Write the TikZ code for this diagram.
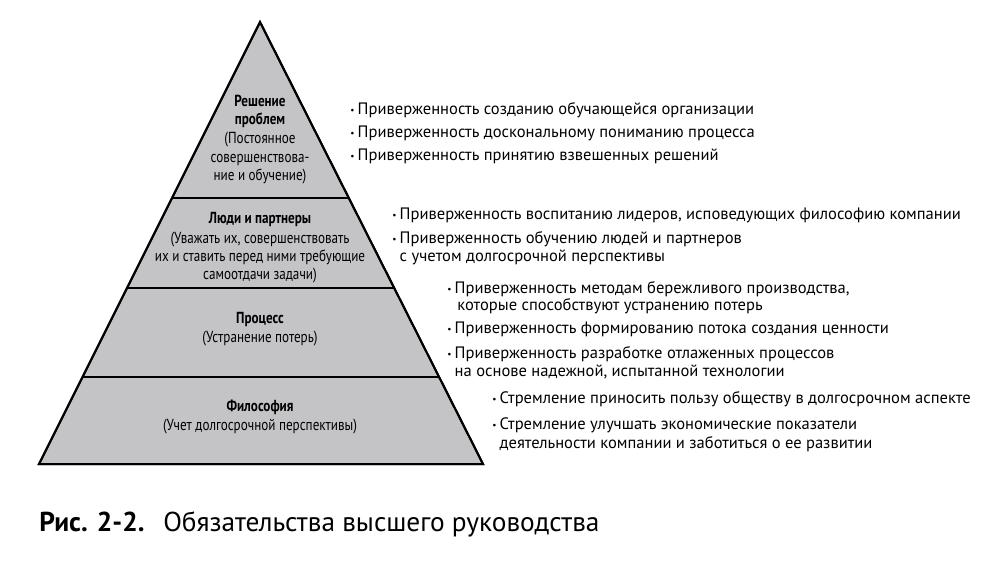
\documentclass[tikz,border=0pt]{standalone}
\usepackage{fontspec}
\usetikzlibrary{calc}
\setmainfont{PT Sans}
\newfontfamily\condfont[FakeStretch=0.82]{PT Sans}
\definecolor{pyrgray}{RGB}{196,196,198}
\tikzset{
  pyr/.style={fill=pyrgray,draw=black,line width=1.5pt,line join=miter},
  divider/.style={draw=black,line width=1pt},
  ptitle/.style={font=\condfont\bfseries\fontsize{12}{14}\selectfont,anchor=base,inner sep=0pt},
  ptext/.style={font=\condfont\fontsize{12}{14}\selectfont,anchor=base,inner sep=0pt},
  btext/.style={font=\fontsize{12.4}{14}\selectfont,anchor=base west,inner sep=0pt},
  captbold/.style={font=\bfseries\fontsize{20.5}{24}\selectfont,anchor=base west,inner sep=0pt},
  capt/.style={font=\fontsize{20.5}{24}\selectfont,anchor=base west,inner sep=0pt},
}
\newcommand{\bul}{\makebox[5.6pt][l]{\raisebox{0.6pt}{\scriptsize\textbullet}}}
\newcommand{\bulsp}{\hspace*{5.6pt}}
\begin{document}
\begin{tikzpicture}[x=0.75pt,y=-0.75pt]
\useasboundingbox (0,0) rectangle (1005,562);
% pyramid
\coordinate (apex) at (260,22);
\coordinate (bl) at (39,464);
\coordinate (br) at (483,464);
\path[pyr] (apex) -- (br) -- (bl) -- cycle;
\coordinate (l1) at ($(apex)!0.3982!(bl)$);
\coordinate (r1) at ($(apex)!0.3982!(br)$);
\coordinate (l2) at ($(apex)!0.6018!(bl)$);
\coordinate (r2) at ($(apex)!0.6018!(br)$);
\coordinate (l3) at ($(apex)!0.8032!(bl)$);
\coordinate (r3) at ($(apex)!0.8032!(br)$);
\draw[divider] (l1) -- (r1);
\draw[divider] (l2) -- (r2);
\draw[divider] (l3) -- (r3);
\path[pyr,fill=none] (apex) -- (br) -- (bl) -- cycle;
% pyramid texts
\node[ptitle] (t1a) at (260,106) {Решение};
\node[ptitle] (t1b) at (260,124) {проблем};
\node[ptext] (t1c) at (260,143) {(Постоянное};
\node[ptext] (t1d) at (260,162) {совершенствова-};
\node[ptext] (t1e) at (260,180) {ние и обучение)};
\node[ptitle] (t2a) at (260,223) {Люди и партнеры};
\node[ptext] (t2b) at (260,243) {(Уважать их, совершенствовать};
\node[ptext] (t2c) at (260,261) {их и ставить перед ними требующие};
\node[ptext] (t2d) at (260,279) {самоотдачи задачи)};
\node[ptitle] (t3a) at (260,323) {Процесс};
\node[ptext] (t3b) at (260,342) {(Устранение потерь)};
\node[ptitle] (t4a) at (260,411) {Философия};
\node[ptext] (t4b) at (260,430) {(Учет долгосрочной перспективы)};
% bullets group 1
\node[btext] (b1) at (350,114) {\bul Приверженность созданию обучающейся организации};
\node[btext] (b2) at (350,137) {\bul Приверженность доскональному пониманию процесса};
\node[btext] (b3) at (350,160) {\bul Приверженность принятию взвешенных решений};
% group 2
\node[btext] (b4) at (392,219) {\bul Приверженность воспитанию лидеров, исповедующих философию компании};
\node[btext] (b5) at (392,243) {\bul Приверженность обучению людей и партнеров};
\node[btext] (b5b) at (392,261) {\bulsp с учетом долгосрочной перспективы};
% group 3
\node[btext] (b6) at (447,293) {\bul Приверженность методам бережливого производства,};
\node[btext] (b6b) at (447,310) {\bulsp\hspace*{2pt}которые способствуют устранению потерь};
\node[btext] (b7) at (447,333) {\bul Приверженность формированию потока создания ценности};
\node[btext] (b8) at (447,358) {\bul Приверженность разработке отлаженных процессов};
\node[btext] (b8b) at (447,376) {\bulsp на основе надежной, испытанной технологии};
% group 4
\node[btext] (b9) at (492,403) {\bul Стремление приносить пользу обществу в долгосрочном аспекте};
\node[btext] (b10) at (492,429) {\bul Стремление улучшать экономические показатели};
\node[btext] (b10b) at (492,448) {\bulsp деятельности компании и заботиться о ее развитии};
% caption
\node[captbold] (c1) at (39,531) {Рис. 2-2.};
\node[capt] (c2) at (163,531) {Обязательства высшего руководства};
\end{tikzpicture}
\end{document}
